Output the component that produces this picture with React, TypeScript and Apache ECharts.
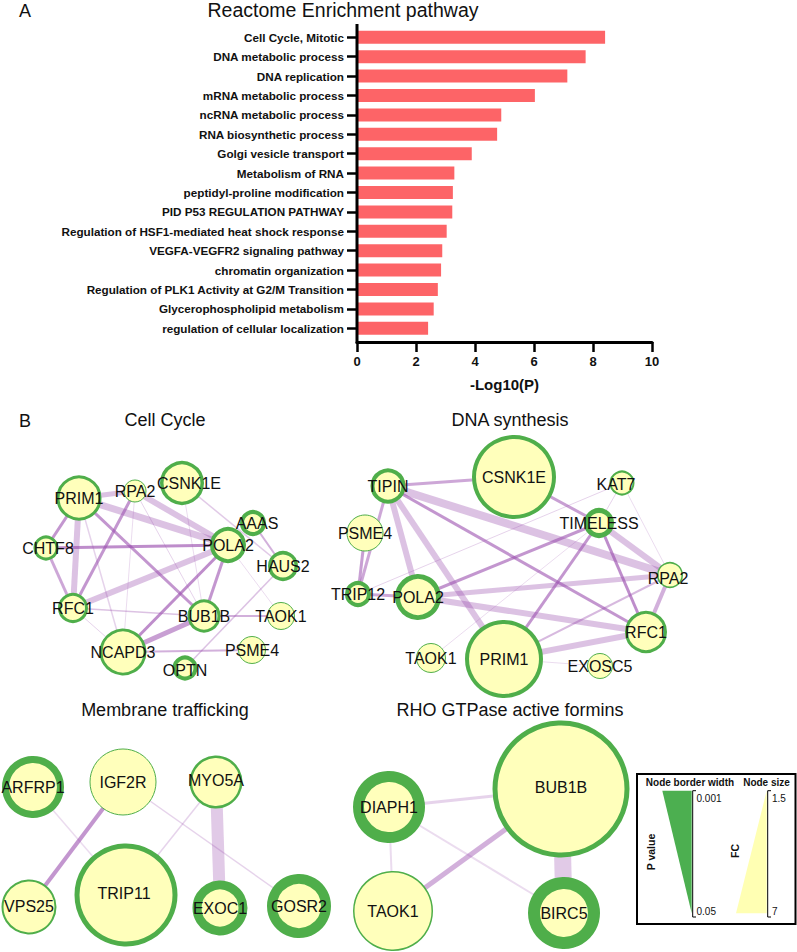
import React, { useEffect, useRef } from "react";
import * as echarts from "echarts";

// ---------- Panel A data ----------
const pathways = [
  "Cell Cycle, Mitotic",
  "DNA metabolic process",
  "DNA replication",
  "mRNA metabolic process",
  "ncRNA metabolic process",
  "RNA biosynthetic process",
  "Golgi vesicle transport",
  "Metabolism of RNA",
  "peptidyl-proline modification",
  "PID P53 REGULATION PATHWAY",
  "Regulation of HSF1-mediated heat shock response",
  "VEGFA-VEGFR2 signaling pathway",
  "chromatin organization",
  "Regulation of PLK1 Activity at G2/M Transition",
  "Glycerophospholipid metabolism",
  "regulation of cellular localization",
];
const negLog10P = [8.41, 7.75, 7.13, 6.03, 4.89, 4.75, 3.89, 3.3, 3.25, 3.23, 3.04, 2.89, 2.85, 2.74, 2.6, 2.41];
const xMin = 0;
const xMax = 10;
const xStep = 2;

// ---------- Panel B data (network layouts) ----------
// [gene, layoutX, layoutY, node diameter (FC), border width (P value), label offset]
type Node = [string, number, number, number, number, number[]?];
type Link = [string, string, number, number]; // source, target, width, opacity

const cellCycleNodes: Node[] = [
  ["PRIM1", 79, 498, 45, 3],
  ["RPA2", 135, 491, 23, 1],
  ["CSNK1E", 182, 483, 44, 3.5, [7, 0]],
  ["AAAS", 253, 523, 26, 4, [4, 0]],
  ["CHTF8", 46, 548, 25, 3, [2, 0]],
  ["POLA2", 228, 545, 36, 4],
  ["HAUS2", 283, 566, 30, 3.5],
  ["RFC1", 73, 608, 30, 3],
  ["BUB1B", 204, 616, 33, 3],
  ["TAOK1", 281, 616, 28, 1],
  ["NCAPD3", 123, 652, 47, 3],
  ["PSME4", 252, 650, 28, 1],
  ["OPTN", 185, 668, 25, 4, [0, 2]],
];
const cellCycleLinks: Link[] = [
  ["PRIM1", "RPA2", 5, 0.35],
  ["PRIM1", "POLA2", 7, 0.35],
  ["RPA2", "POLA2", 6, 0.35],
  ["PRIM1", "CHTF8", 3, 0.6],
  ["PRIM1", "RFC1", 6, 0.35],
  ["PRIM1", "BUB1B", 3, 0.6],
  ["PRIM1", "NCAPD3", 1.5, 0.25],
  ["RPA2", "RFC1", 3, 0.6],
  ["RPA2", "BUB1B", 1, 0.25],
  ["RPA2", "NCAPD3", 1, 0.2],
  ["CSNK1E", "HAUS2", 1.5, 0.3],
  ["CSNK1E", "BUB1B", 1, 0.2],
  ["AAAS", "HAUS2", 2, 0.45],
  ["CHTF8", "POLA2", 3, 0.65],
  ["CHTF8", "RFC1", 3, 0.5],
  ["RFC1", "POLA2", 6, 0.35],
  ["RFC1", "BUB1B", 1.5, 0.35],
  ["RFC1", "NCAPD3", 1, 0.25],
  ["POLA2", "NCAPD3", 3, 0.65],
  ["POLA2", "BUB1B", 3, 0.6],
  ["BUB1B", "NCAPD3", 5, 0.55],
  ["BUB1B", "TAOK1", 2, 0.45],
  ["NCAPD3", "PSME4", 2, 0.45],
  ["OPTN", "HAUS2", 1.5, 0.35],
  ["POLA2", "TAOK1", 1, 0.2],
];

const dnaNodes: Node[] = [
  ["TIPIN", 388, 486, 35, 4],
  ["CSNK1E", 514, 477, 84, 4],
  ["KAT7", 622, 483, 25, 2, [-6, 1]],
  ["PSME4", 365, 533, 37, 1],
  ["TIMELESS", 599, 523, 30, 5],
  ["RPA2", 670, 575, 26, 1.5, [-2, 3]],
  ["TRIP12", 358, 594, 26, 4],
  ["POLA2", 418, 597, 46, 5],
  ["RFC1", 646, 632, 42, 3],
  ["TAOK1", 431, 658, 30, 1],
  ["PRIM1", 504, 659, 78, 4],
  ["EXOSC5", 600, 666, 26, 1],
];
const dnaLinks: Link[] = [
  ["TIPIN", "CSNK1E", 3, 0.5],
  ["TIPIN", "RPA2", 8, 0.35],
  ["TIPIN", "RFC1", 3, 0.6],
  ["TIPIN", "PRIM1", 6, 0.35],
  ["TIPIN", "POLA2", 6, 0.35],
  ["TIPIN", "TRIP12", 3, 0.5],
  ["PSME4", "TRIP12", 3, 0.55],
  ["CSNK1E", "TIMELESS", 3, 0.55],
  ["KAT7", "TIMELESS", 1, 0.25],
  ["KAT7", "TRIP12", 1, 0.25],
  ["KAT7", "RPA2", 1, 0.2],
  ["TIMELESS", "POLA2", 3, 0.6],
  ["TIMELESS", "PRIM1", 3, 0.6],
  ["TIMELESS", "RFC1", 3, 0.65],
  ["TIMELESS", "RPA2", 6, 0.35],
  ["POLA2", "RPA2", 5, 0.35],
  ["POLA2", "RFC1", 6, 0.35],
  ["PRIM1", "RFC1", 6, 0.35],
  ["PRIM1", "RPA2", 2, 0.4],
  ["RFC1", "RPA2", 4, 0.45],
  ["PRIM1", "EXOSC5", 1, 0.2],
  ["TRIP12", "POLA2", 3, 0.5],
  ["TAOK1", "TIMELESS", 1, 0.2],
];

const membraneNodes: Node[] = [
  ["ARFRP1", 33, 787, 62, 7],
  ["IGF2R", 123, 782, 67, 1],
  ["MYO5A", 216, 782, 53, 2.5, [0, -2]],
  ["VPS25", 29, 907, 55, 2, [0, -1]],
  ["TRIP11", 126, 895, 103, 5, [-2, -2]],
  ["EXOC1", 220, 908, 55, 9],
  ["GOSR2", 299, 906, 64, 10],
];
const membraneLinks: Link[] = [
  ["IGF2R", "VPS25", 4, 0.6],
  ["MYO5A", "EXOC1", 12, 0.3],
  ["ARFRP1", "TRIP11", 1.5, 0.2],
  ["IGF2R", "GOSR2", 1.5, 0.25],
  ["MYO5A", "TRIP11", 1.5, 0.25],
];

const rhoNodes: Node[] = [
  ["BUB1B", 561, 789, 137, 5, [0, -2]],
  ["DIAPH1", 389, 807, 72, 11],
  ["TAOK1", 393, 911, 80, 1.5],
  ["BIRC5", 564, 913, 72, 12],
];
const rhoLinks: Link[] = [
  ["BUB1B", "DIAPH1", 3, 0.25],
  ["BUB1B", "TAOK1", 5, 0.45],
  ["BUB1B", "BIRC5", 17, 0.3],
  ["DIAPH1", "TAOK1", 2, 0.2],
  ["DIAPH1", "BIRC5", 2, 0.2],
];

const networkTitles = ["Cell Cycle", "DNA synthesis", "Membrane trafficking", "RHO GTPase active formins"];
const legendPLabels = ["0.001", "0.05"];
const legendFCLabels = ["1.5", "7"];

// ---------- styles ----------
const FONT = "'Liberation Sans', Arial, Helvetica, sans-serif";
const BAR_COLOR = "#fd6467";
const NODE_FILL = "#ffffbb";
const NODE_BORDER = "#4fae4a";
const EDGE_COLOR = "#9b50af";

function graphSeries(nodes: Node[], links: Link[]) {
  return {
    type: "graph",
    layout: "none",
    coordinateSystem: "cartesian2d",
    xAxisIndex: 1,
    yAxisIndex: 1,
    silent: true,
    z: 3,
    symbol: "circle",
    data: nodes.map(([name, x, y, d, b, off]) => ({
      name,
      value: [x, y],
      symbolSize: d - b,
      itemStyle: { color: NODE_FILL, borderColor: NODE_BORDER, borderWidth: b },
      label: { show: true, position: "inside", offset: off || [0, 0] },
    })),
    links: links.map(([s, t, w, o]) => ({
      source: s,
      target: t,
      lineStyle: { width: w, opacity: o, color: EDGE_COLOR, curveness: 0 },
    })),
    label: { show: true, color: "#111", fontSize: 16, fontFamily: FONT },
    lineStyle: { color: EDGE_COLOR },
    emphasis: { disabled: true },
  };
}

function txt(text: string, x: number, y: number, font: string, align = "center", rotation = 0) {
  return {
    type: "text",
    x,
    y,
    rotation,
    z: 10,
    style: {
      text,
      font,
      fill: "#111",
      align,
      verticalAlign: "middle",
      textAlign: align,
      textVerticalAlign: "middle",
    },
  };
}

export default function App() {
  const ref = useRef<HTMLDivElement>(null);
  useEffect(() => {
    document.body.style.margin = "0";
    if (!ref.current) return;
    const chart = echarts.init(ref.current, undefined, { renderer: "svg" });
    const option: any = {
      animation: false,
      backgroundColor: "#fff",
      grid: [
        { left: 357, top: 27.6, width: 295, height: 310.4, containLabel: false },
        { left: 0, top: 0, width: 797, height: 952, containLabel: false },
      ],
      xAxis: [
        {
          gridIndex: 0,
          type: "value",
          min: xMin,
          max: xMax,
          interval: xStep,
          offset: 4,
          axisLine: { show: true, lineStyle: { color: "#000", width: 3 } },
          axisTick: { show: true, length: 10, lineStyle: { color: "#000", width: 2.5 } },
          axisLabel: { color: "#111", fontWeight: "bold", fontSize: 13, fontFamily: FONT, margin: 13 },
          splitLine: { show: false },
          name: "-Log10(P)",
          nameLocation: "middle",
          nameGap: 35,
          nameTextStyle: { color: "#111", fontWeight: "bold", fontSize: 15, fontFamily: FONT },
        },
        { gridIndex: 1, type: "value", min: 0, max: 797, show: false },
      ],
      yAxis: [
        {
          gridIndex: 0,
          type: "category",
          inverse: true,
          data: pathways,
          axisLine: { show: false },
          axisTick: { show: true, alignWithLabel: true, length: 10, lineStyle: { color: "#000", width: 2.5 } },
          axisLabel: { color: "#111", fontWeight: "bold", fontSize: 11.7, fontFamily: FONT, margin: 13 },
          splitLine: { show: false },
        },
        { gridIndex: 1, type: "value", min: 0, max: 952, inverse: true, show: false },
      ],
      series: [
        {
          type: "bar",
          xAxisIndex: 0,
          yAxisIndex: 0,
          data: negLog10P,
          barWidth: 13,
          itemStyle: { color: BAR_COLOR },
          silent: true,
        },
        graphSeries(cellCycleNodes, cellCycleLinks),
        graphSeries(dnaNodes, dnaLinks),
        graphSeries(membraneNodes, membraneLinks),
        graphSeries(rhoNodes, rhoLinks),
      ],
      graphic: [
        // y axis line of panel A
        { type: "line", z: 5, shape: { x1: 357, y1: 24, x2: 357, y2: 343.5 }, style: { stroke: "#000", lineWidth: 3 } },
        txt("A", 25, 11, `18px ${FONT}`),
        txt("Reactome Enrichment pathway", 343, 10, `19.5px ${FONT}`),
        txt("B", 25, 421, `18px ${FONT}`),
        txt(networkTitles[0], 165, 420, `18px ${FONT}`),
        txt(networkTitles[1], 510, 420, `18px ${FONT}`),
        txt(networkTitles[2], 165, 710, `18px ${FONT}`),
        txt(networkTitles[3], 510, 710, `18px ${FONT}`),
        // legend box
        { type: "rect", z: 9, shape: { x: 637, y: 774, width: 158.5, height: 150 }, style: { fill: "#fff", stroke: "#000", lineWidth: 2 } },
        txt("Node border width", 690, 782, `bold 10px ${FONT}`),
        txt("Node size", 766.5, 782, `bold 10px ${FONT}`),
        { type: "polygon", z: 10, shape: { points: [[662.3, 790.7], [691.7, 790.7], [691.7, 913.3]] }, style: { fill: "#4caf50" } },
        { type: "polygon", z: 10, shape: { points: [[766.7, 790.7], [766.7, 913.3], [736, 913.3]] }, style: { fill: "#ffffb3" } },
        { type: "polyline", z: 10, shape: { points: [[696, 790.7], [692.7, 790.7], [692.7, 917], [696, 917]] }, style: { stroke: "#000", lineWidth: 1, fill: null } },
        { type: "polyline", z: 10, shape: { points: [[771, 790.7], [767.7, 790.7], [767.7, 917], [771, 917]] }, style: { stroke: "#000", lineWidth: 1, fill: null } },
        txt(legendPLabels[0], 696.5, 798.5, `10px ${FONT}`, "left"),
        txt(legendPLabels[1], 696.5, 911.5, `10px ${FONT}`, "left"),
        txt(legendFCLabels[0], 772, 798.5, `10px ${FONT}`, "left"),
        txt(legendFCLabels[1], 772, 911.5, `10px ${FONT}`, "left"),
        txt("P value", 651, 852, `bold 10.5px ${FONT}`, "center", Math.PI / 2),
        txt("FC", 735, 851, `bold 10.5px ${FONT}`, "center", Math.PI / 2),
      ],
    };
    chart.setOption(option);
    return () => chart.dispose();
  }, []);
  return <div ref={ref} style={{ width: 797, height: 952 }} />;
}
